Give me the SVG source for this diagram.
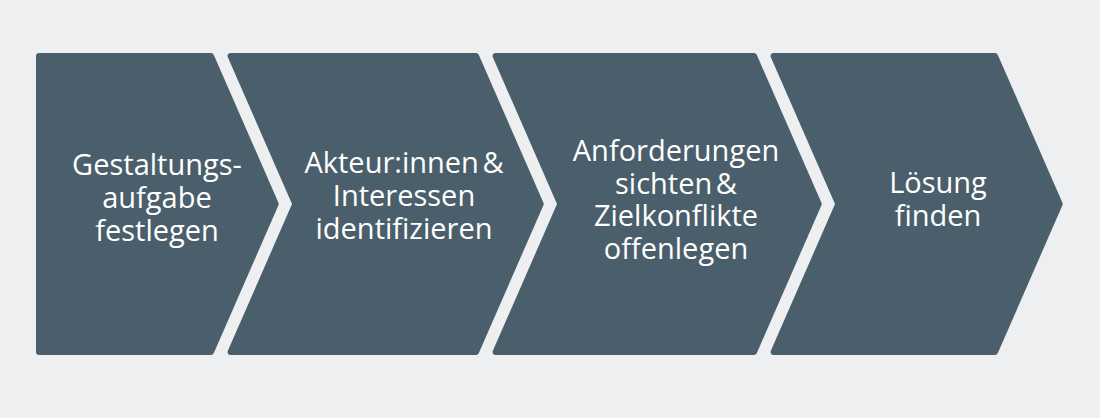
<svg xmlns="http://www.w3.org/2000/svg" width="1100" height="418" viewBox="0 0 1100 418">
<style>
.bg{fill:#eeeff1}
.step{fill:#4a5f6b;stroke:#4a5f6b;stroke-width:6;stroke-linejoin:round}
.lbl{font-family:"Open Sans","Noto Sans","Liberation Sans",sans-serif;font-size:29px;fill:#ffffff;text-anchor:middle;word-spacing:-4px}
</style>
<rect class="bg" x="0" y="0" width="1100" height="418"/>
<g id="step1">
<polygon class="step" points="39,56 211,56 275.7,204 211,352 39,352"/>
<text class="lbl"><tspan x="157" y="175">Gestaltungs-</tspan><tspan x="157" y="208">aufgabe</tspan><tspan x="157" y="241">festlegen</tspan></text>
</g>
<g id="step2">
<polygon class="step" points="230.6,56 476,56 540.7,204 476,352 230.6,352 295.3,204"/>
<text class="lbl"><tspan x="404" y="173">Akteur:innen &amp;</tspan><tspan x="404" y="206">Interessen</tspan><tspan x="404" y="239">identifizieren</tspan></text>
</g>
<g id="step3">
<polygon class="step" points="495.6,56 754,56 818.7,204 754,352 495.6,352 560.3,204"/>
<text class="lbl"><tspan x="676" y="161">Anforderungen</tspan><tspan x="676" y="193.5">sichten &amp;</tspan><tspan x="676" y="226">Zielkonflikte</tspan><tspan x="676" y="258.5">offenlegen</tspan></text>
</g>
<g id="step4">
<polygon class="step" points="773.6,56 995,56 1059.7,204 995,352 773.6,352 838.3,204"/>
<text class="lbl"><tspan x="938" y="193">Lösung</tspan><tspan x="938" y="226">finden</tspan></text>
</g>
<g id="connectors"/>
</svg>
